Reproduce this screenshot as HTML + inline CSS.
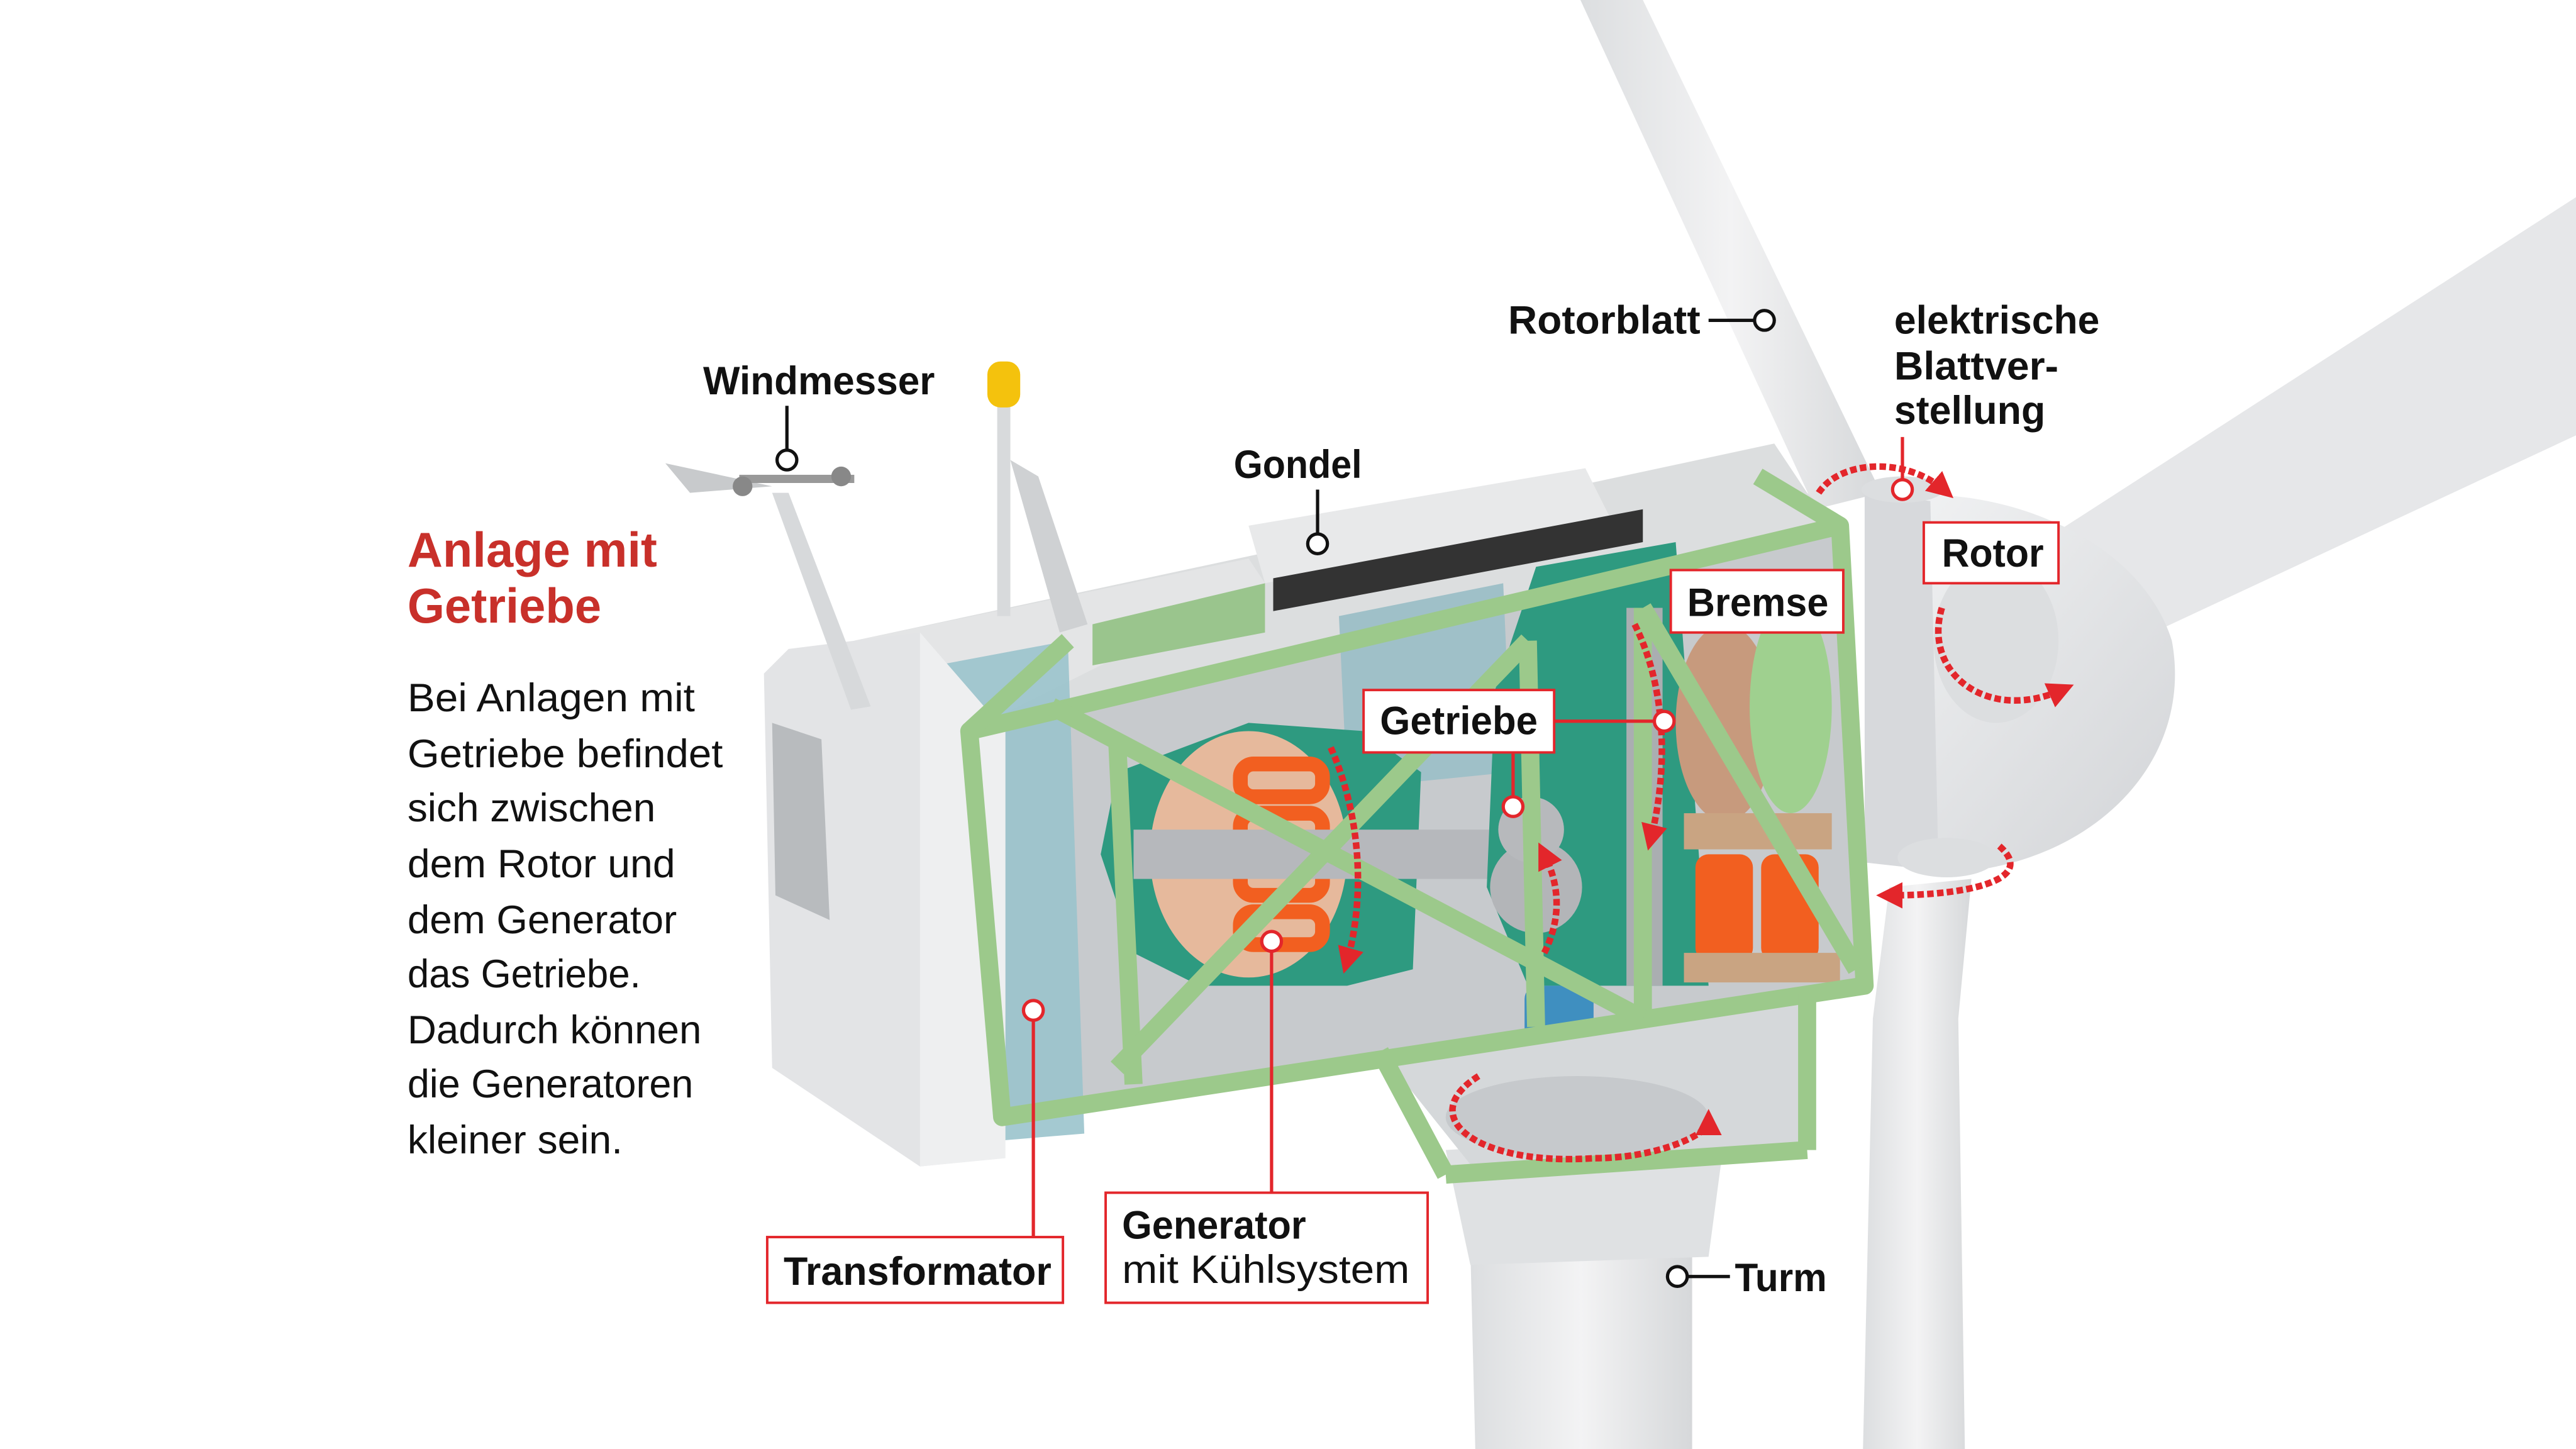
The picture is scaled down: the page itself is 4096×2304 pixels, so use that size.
<!DOCTYPE html>
<html><head><meta charset="utf-8"><style>
html,body{margin:0;padding:0;background:#fff;}
svg{display:block;}
.b{font-family:"Liberation Sans",sans-serif;font-weight:bold;fill:#111;}
.r{font-family:"Liberation Sans",sans-serif;fill:#111;}
</style></head><body>
<svg width="4096" height="2304" viewBox="0 0 1568 882" preserveAspectRatio="none" xmlns="http://www.w3.org/2000/svg">
<defs>
<linearGradient id="bl" x1="0" y1="0" x2="1" y2="0"><stop offset="0" stop-color="#dcdee0"/><stop offset=".5" stop-color="#f3f3f4"/><stop offset="1" stop-color="#d6d8da"/></linearGradient>
<linearGradient id="hub" x1="0" y1="0" x2="1" y2="1"><stop offset="0" stop-color="#f3f4f5"/><stop offset="1" stop-color="#d2d4d7"/></linearGradient>
<marker id="ar" viewBox="0 0 10 10" refX="5" refY="5" markerWidth="4" markerHeight="4" orient="auto"><path d="M0,0L10,5L0,10z" fill="#e3262b"/></marker>
</defs>
<rect width="1568" height="882" fill="#fff"/>
<path d="M895,760 L1030,760 L1030,882 L898,882 Z" fill="url(#bl)"/>
<path d="M880,700 L1050,690 L1040,765 L895,770 Z" fill="#dfe1e3"/>
<path d="M962,0 L1000,0 L1145,300 L1105,310 Z" fill="url(#bl)"/>
<path d="M1150,540 L1200,535 L1192,620 L1196,882 L1134,882 L1140,620 Z" fill="url(#bl)"/>
<path d="M1250,325 L1568,120 L1568,265 L1300,390 L1260,420 Z" fill="#e6e7e9"/>
<path d="M1140,305 C1200,290 1300,320 1322,390 C1335,460 1280,520 1200,530 C1160,535 1140,520 1135,500 Z" fill="url(#hub)"/>
<ellipse cx="1215" cy="390" rx="38" ry="50" fill="#dcdee0"/>
<path d="M1135,300 L1175,305 L1180,530 L1135,525 Z" fill="#d7d9dc"/>
<ellipse cx="1158" cy="298" rx="25" ry="8" fill="#dcdee0"/>
<ellipse cx="1185" cy="522" rx="30" ry="12" fill="#dcdee0"/>
<path d="M520,390 L1080,270 L1100,300 L1120,320 L590,445 Z" fill="#dcdedf"/>
<path d="M520,390 L760,340 L770,355 L590,445 Z" fill="#e4e5e6"/>
<path d="M760,320 L965,285 L980,315 L770,355 Z" fill="#e8e9ea"/>
<path d="M665,380 L770,355 L770,385 L665,405 Z" fill="#9ac58d"/>
<path d="M775,352 L1000,310 L1000,330 L775,372 Z" fill="#333"/>
<path d="M590,445 L1120,320 L1135,600 L610,680 Z" fill="#c7cacd"/>
<path d="M570,405 L650,390 L660,690 L600,695 Z" fill="#9ac3cc" opacity=".9"/>
<path d="M815,375 L915,355 L920,470 L820,480 Z" fill="#9fc0c8"/>
<path d="M480,395 L560,385 L575,405 L610,445 L610,705 L560,710 L470,650 L465,410 Z" fill="#e3e4e6"/>
<path d="M560,385 L612,445 L612,705 L560,710 Z" fill="#eeeff0"/>
<path d="M470,440 L500,450 L505,560 L472,545 Z" fill="#b8bbbe"/>
<path d="M680,470 L760,440 L830,445 L865,470 L860,590 L820,600 L730,600 L690,580 L670,520 Z" fill="#2e9a80"/>
<ellipse cx="760" cy="520" rx="60" ry="75" fill="#e6b99c"/>
<g fill="none" stroke="#f25f20" stroke-width="9">
<rect x="755" y="465" width="50" height="20" rx="8"/><rect x="755" y="495" width="50" height="20" rx="8"/><rect x="755" y="525" width="50" height="20" rx="8"/><rect x="755" y="555" width="50" height="20" rx="8"/></g>
<rect x="690" y="505" width="230" height="30" fill="#b6b8bc"/>
<path d="M935,345 L1020,330 L1040,600 L930,600 L905,540 L910,420 Z" fill="#2e9a80"/>
<circle cx="935" cy="540" r="28" fill="#b3b5b8"/><circle cx="932" cy="505" r="20" fill="#b7b9bc"/>
<rect x="990" y="370" width="22" height="230" fill="#aaaeb1"/>
<ellipse cx="1050" cy="440" rx="30" ry="60" fill="#c79a7d"/>
<ellipse cx="1090" cy="430" rx="25" ry="65" fill="#9fd08f"/>
<rect x="1025" y="495" width="90" height="22" fill="#c9a482"/>
<rect x="1032" y="520" width="35" height="65" rx="8" fill="#f25f20"/><rect x="1072" y="520" width="35" height="65" rx="8" fill="#f25f20"/>
<rect x="1025" y="580" width="95" height="18" fill="#c9a482"/>
<rect x="928" y="600" width="42" height="70" rx="8" fill="#3f8fc0"/>
<path d="M840,640 L1100,605 L1100,700 L900,715 Z" fill="#d5d8da"/>
<ellipse cx="960" cy="680" rx="80" ry="25" fill="#c6c9cc"/>
<g stroke="#9cc98b" stroke-width="11" fill="none" stroke-linejoin="round">
<path d="M590,445 L1120,320 L1135,600 L610,680 Z"/>
<path d="M680,450 L690,660 M930,390 L935,625 M1000,370 L1000,615"/>
<path d="M640,430 L1000,620 M680,650 L930,390 M1000,370 L1130,590"/>
<path d="M590,445 L650,390 M1120,320 L1070,290 M880,715 L1100,700 M840,640 L880,715 M1100,605 L1100,700"/>
</g>
<path d="M470,300 L480,300 L530,430 L518,432 Z" fill="#d7d9db"/>
<path d="M405,282 L420,300 L470,296 Z" fill="#c8cacc"/>
<rect x="450" y="289" width="70" height="5" fill="#999"/>
<circle cx="512" cy="290" r="6" fill="#888"/><circle cx="452" cy="296" r="6" fill="#888"/>
<rect x="607" y="245" width="8" height="130" fill="#d8dadc"/>
<rect x="601" y="220" width="20" height="28" rx="8" fill="#f4c20d"/>
<path d="M615,280 L632,290 L662,380 L645,385 Z" fill="#cfd1d3"/>
<g fill="none" stroke="#e3262b" stroke-width="4" stroke-dasharray="4,2" marker-end="url(#ar)">
<path d="M1107,300 C1120,280 1160,278 1183,298"/>
<path d="M1182,370 C1170,410 1210,440 1255,420"/>
<path d="M1217,515 C1240,535 1200,545 1150,545"/>
<path d="M900,655 C860,680 900,710 970,705 C1010,705 1040,690 1040,683"/>
<path d="M810,455 C830,500 830,550 820,585"/>
<path d="M940,580 C950,560 950,540 940,520"/>
<path d="M995,380 C1015,420 1015,470 1005,510"/>
</g>
<g stroke="#111" stroke-width="2" fill="#fff">
<line x1="479" y1="247" x2="479" y2="274"/><circle cx="479" cy="280" r="6"/>
<line x1="1040" y1="195" x2="1068" y2="195"/><circle cx="1074" cy="195" r="6"/>
<line x1="802" y1="298" x2="802" y2="325"/><circle cx="802" cy="331" r="6"/>
<line x1="1027" y1="777" x2="1053" y2="777"/><circle cx="1021" cy="777" r="6"/>
</g>
<g stroke="#e3262b" stroke-width="2" fill="#fff">
<line x1="1158" y1="266" x2="1158" y2="292"/><circle cx="1158" cy="298" r="6"/>
<line x1="946" y1="439" x2="1007" y2="439"/><circle cx="1013" cy="439" r="6"/>
<line x1="921" y1="458" x2="921" y2="485"/><circle cx="921" cy="491" r="6"/>
<line x1="629" y1="621" x2="629" y2="753"/><circle cx="629" cy="615" r="6"/>
<line x1="774" y1="579" x2="774" y2="726"/><circle cx="774" cy="573" r="6"/>
</g>
<g fill="#fff" stroke="#e3262b" stroke-width="1.5">
<rect x="1171" y="318" width="82" height="37"/>
<rect x="1017" y="347" width="105" height="38"/>
<rect x="830" y="420" width="116" height="38"/>
<rect x="467" y="753" width="180" height="40"/>
<rect x="673" y="726" width="196" height="67"/>
</g>
<g class="b" font-size="24">
<text x="428" y="240" textLength="141" lengthAdjust="spacingAndGlyphs">Windmesser</text>
<text x="918" y="203" textLength="117" lengthAdjust="spacingAndGlyphs">Rotorblatt</text>
<text x="1153" y="203" textLength="125" lengthAdjust="spacingAndGlyphs">elektrische</text>
<text x="1153" y="231" textLength="100" lengthAdjust="spacingAndGlyphs">Blattver-</text>
<text x="1153" y="258" textLength="92" lengthAdjust="spacingAndGlyphs">stellung</text>
<text x="751" y="291" textLength="78" lengthAdjust="spacingAndGlyphs">Gondel</text>
<text x="1182" y="345" textLength="62" lengthAdjust="spacingAndGlyphs">Rotor</text>
<text x="1027" y="375" textLength="86" lengthAdjust="spacingAndGlyphs">Bremse</text>
<text x="840" y="447" textLength="96" lengthAdjust="spacingAndGlyphs">Getriebe</text>
<text x="477" y="782" textLength="163" lengthAdjust="spacingAndGlyphs">Transformator</text>
<text x="683" y="754" textLength="112" lengthAdjust="spacingAndGlyphs">Generator</text>
<text x="1056" y="786" textLength="56" lengthAdjust="spacingAndGlyphs">Turm</text>
</g>
<text class="r" font-size="24" x="683" y="781" textLength="175" lengthAdjust="spacingAndGlyphs">mit Kühlsystem</text>
<g font-family="Liberation Sans,sans-serif" font-weight="bold" font-size="30" fill="#c8302a">
<text x="248" y="345" textLength="152" lengthAdjust="spacingAndGlyphs">Anlage mit</text>
<text x="248" y="379" textLength="118" lengthAdjust="spacingAndGlyphs">Getriebe</text>
</g>
<g class="r" font-size="24">
<text x="248" y="433" textLength="175" lengthAdjust="spacingAndGlyphs">Bei Anlagen mit</text>
<text x="248" y="467" textLength="192" lengthAdjust="spacingAndGlyphs">Getriebe befindet</text>
<text x="248" y="500" textLength="151" lengthAdjust="spacingAndGlyphs">sich zwischen</text>
<text x="248" y="534" textLength="163" lengthAdjust="spacingAndGlyphs">dem Rotor und</text>
<text x="248" y="568" textLength="164" lengthAdjust="spacingAndGlyphs">dem Generator</text>
<text x="248" y="601" textLength="142" lengthAdjust="spacingAndGlyphs">das Getriebe.</text>
<text x="248" y="635" textLength="179" lengthAdjust="spacingAndGlyphs">Dadurch können</text>
<text x="248" y="668" textLength="174" lengthAdjust="spacingAndGlyphs">die Generatoren</text>
<text x="248" y="702" textLength="131" lengthAdjust="spacingAndGlyphs">kleiner sein.</text>
</g>
</svg>
</body></html>
